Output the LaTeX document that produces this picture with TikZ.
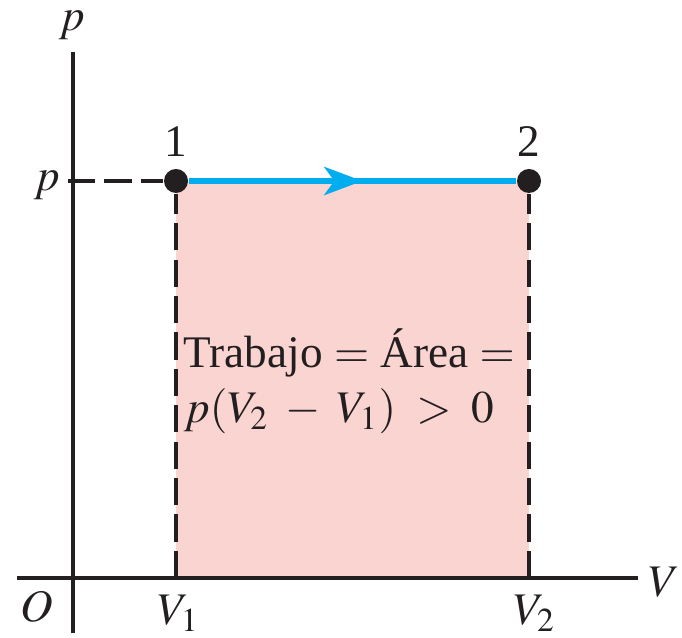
\documentclass[tikz,border=0pt]{standalone}
\usepackage{mathptmx}
\usepackage{fontspec}
\setmainfont{Liberation Serif}
\usetikzlibrary{arrows.meta, decorations.markings, positioning}
\definecolor{areapink}{RGB}{250,212,208}
\definecolor{pathblue}{RGB}{0,174,239}
\definecolor{inkblack}{RGB}{35,31,32}
\tikzset{
  axis/.style    = {draw=inkblack, line width=0.85pt},
  guide/.style   = {draw=inkblack, line width=0.85pt, dash pattern=on 6.8pt off 2.3pt},
  state/.style   = {circle, fill=inkblack, inner sep=0pt, minimum size=6pt},
  process/.style = {pathblue, line width=1.5pt, postaction={decorate},
                    decoration={markings, mark=at position 0.53 with
                      {\arrow{Stealth[length=9.5pt, width=7pt, inset=2.5pt]}}}},
  lbl/.style     = {font=\fontsize{11.3}{13.8}\selectfont, inner sep=0pt, text=inkblack},
}

\begin{document}
\begin{tikzpicture}[x=0.25pt, y=-0.25pt]
  \useasboundingbox (0,0) rectangle (682,638);
  % axes ends and corners
  \coordinate (ybot) at (73,633);
  \coordinate (ytop) at (73,52);
  \coordinate (xleft) at (17,578);
  \coordinate (xright) at (638,578);
  \coordinate (ptick) at (68,181);
  \coordinate (v1) at (176,578);
  \coordinate (v2) at (529,578);
  % area under the process
  \fill[areapink] (v1) rectangle (529,181);
  % states
  \node[state] (s1) at (176,181) {};
  \node[state] (s2) at (529,181) {};
  % guides
  \draw[guide] (ptick) -- (s1);
  \draw[guide] (v1) -- (s1);
  \draw[guide] (v2) -- (s2);
  \draw[axis] (ybot) -- (ytop);
  \draw[axis] (xleft) -- (xright);
  % isobaric expansion
  \draw[process] (s1) -- (s2);
  % labels
  \node[lbl] (lp) at (72,25) {$p$};
  \node[lbl] (lpv) at (47,185) {$p$};
  \node[lbl] (lv) at (664,582) {$V$};
  \node[lbl] (lo) at (37,607) {$O$};
  \node[lbl] (lv1) at (179,613) {$V_1$};
  \node[lbl] (lv2) at (535,613) {$V_2$};
  \node[lbl, above=6pt of s1.center, anchor=base] (l1) {1};
  \node[lbl, above=6pt of s2.center, anchor=base] (l2) {2};
  \node[lbl, align=left, anchor=west] (work) at (183,381)
    {Trabajo $=$ \'Area $=$\\ $p(V_2 \;-\; V_1) \;>\; 0$};
\end{tikzpicture}
\end{document}
